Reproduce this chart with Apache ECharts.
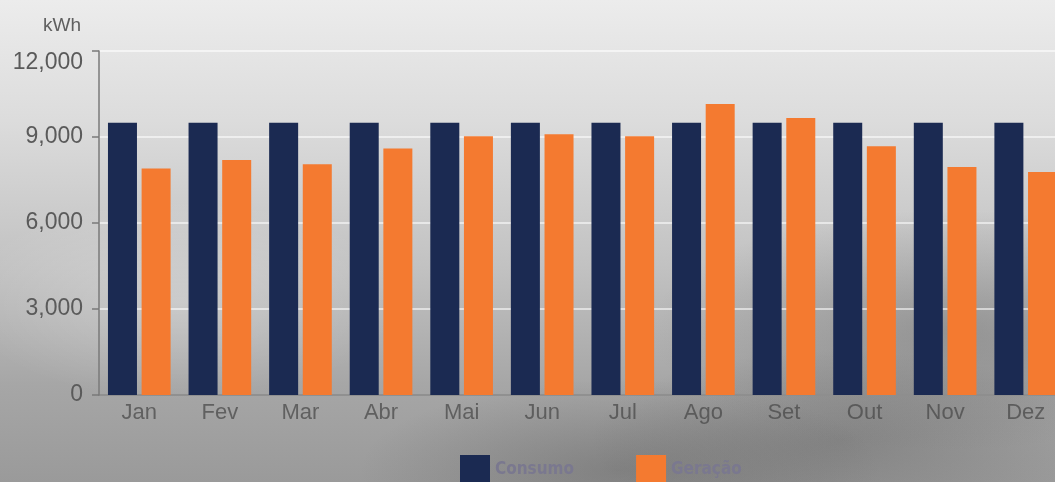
<!DOCTYPE html>
<html>
<head>
<meta charset="utf-8">
<script src="https://cdn.jsdelivr.net/npm/echarts@6/dist/echarts.min.js"></script>
<style>
    html, body {
        margin: 0;
        padding: 0;
        width: 1055px;
        height: 482px;
        overflow: hidden;
    }
    body {
        background:
            radial-gradient(ellipse 260px 90px at 620px 470px, rgba(80, 80, 80, 0.35), rgba(80, 80, 80, 0)),
            radial-gradient(ellipse 300px 120px at 950px 330px, rgba(90, 90, 90, 0.35), rgba(90, 90, 90, 0)),
            radial-gradient(ellipse 220px 100px at 180px 300px, rgba(255, 255, 255, 0.25), rgba(255, 255, 255, 0)),
            radial-gradient(ellipse 250px 90px at 840px 440px, rgba(70, 70, 70, 0.3), rgba(70, 70, 70, 0)),
            linear-gradient(180deg, #ececec 0%, #dcdcdc 25%, #c2c2c2 55%, #a6a6a6 80%, #9a9a9a 100%);
    }
    /* wider than the window: the last bar is cut at the right edge */
    .chart-container {
        width: 1080px;
        height: 482px;
    }
</style>
</head>
<body>
<div class="chart-container" id="chart"></div>
<script>
const months = ['Jan', 'Fev', 'Mar', 'Abr', 'Mai', 'Jun', 'Jul', 'Ago', 'Set', 'Out', 'Nov', 'Dez'];
const consumo = [9500, 9500, 9500, 9500, 9500, 9500, 9500, 9500, 9500, 9500, 9500, 9500];
const geracao = [7900, 8200, 8050, 8600, 9030, 9100, 9030, 10150, 9660, 8680, 7950, 7780];
const yTicks = [0, 3000, 6000, 9000, 12000];

const chart = echarts.init(document.getElementById('chart'));

chart.setOption({
    backgroundColor: 'transparent',
    textStyle: {
        fontFamily: 'Liberation Sans, Arial, sans-serif'
    },
    grid: {
        top: 51,
        left: 99,
        right: 14,
        bottom: 87
    },
    legend: {
        top: 450,
        left: 455,
        itemWidth: 30,
        itemHeight: 30,
        itemGap: 62,
        icon: 'rect',
        textStyle: {
            color: '#7a788f',
            fontFamily: 'DejaVu Sans Condensed, DejaVu Sans, sans-serif',
            fontSize: 17,
            fontWeight: 'bold'
        },
        data: ['Consumo', 'Geração']
    },
    xAxis: {
        type: 'category',
        data: months,
        axisLine: {
            lineStyle: {
                color: '#7a7a7a',
                width: 1.5
            }
        },
        axisTick: {
            alignWithLabel: true,
            length: 5,
            lineStyle: {
                color: '#7a7a7a',
                width: 1.5
            }
        },
        axisLabel: {
            color: 'rgba(70, 70, 70, 0.72)',
            fontSize: 22,
            margin: 7
        }
    },
    yAxis: {
        type: 'value',
        min: yTicks[0],
        max: yTicks[yTicks.length - 1],
        interval: 3000,
        name: 'kWh',
        nameGap: 16,
        nameTextStyle: {
            color: '#5f5f5f',
            fontSize: 19,
            align: 'right',
            padding: [0, 18, 0, 0]
        },
        axisLine: {
            show: true,
            lineStyle: {
                color: '#7a7a7a',
                width: 1.5
            }
        },
        axisTick: {
            show: true,
            length: 7,
            lineStyle: {
                color: '#7a7a7a',
                width: 1.5
            }
        },
        axisLabel: {
            color: '#5a5a5a',
            fontSize: 23,
            margin: 16,
            verticalAlignMaxLabel: 'top',
            formatter: v => v.toLocaleString('en-US')
        },
        splitLine: {
            lineStyle: {
                color: 'rgba(255, 255, 255, 0.75)',
                width: 1.5
            }
        }
    },
    series: [
        {
            name: 'Consumo',
            type: 'bar',
            data: consumo,
            barWidth: 29,
            barGap: '16%',
            itemStyle: {
                color: '#1b2a52'
            }
        },
        {
            name: 'Geração',
            type: 'bar',
            data: geracao,
            barWidth: 29,
            itemStyle: {
                color: '#f47a30'
            }
        }
    ]
});
</script>
</body>
</html>
